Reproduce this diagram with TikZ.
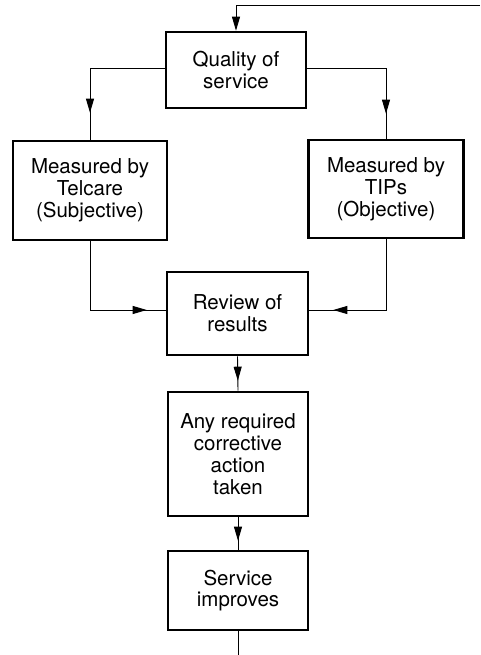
\documentclass[tikz,border=0pt]{standalone}
\usepackage{fontspec}
\setmainfont{TeX Gyre Heros}
\usetikzlibrary{arrows.meta,decorations.markings}
\tikzset{
  box/.style={draw, line width=2.6pt, align=center, inner sep=0pt,
    font=\fontsize{20.5}{21.8}\selectfont},
  conn/.style={line width=0.9pt},
  tip/.style={-{Triangle[length=14pt,width=8pt]}},
  marrow/.style={postaction={decorate}, decoration={markings,
    mark=at position #1 with {\arrow{Triangle[length=14pt,width=8pt]}}}},
}
\begin{document}
\begin{tikzpicture}[x=1pt,y=-1pt]
\useasboundingbox (0,0) rectangle (480,655);
\node[box, minimum width=140pt, minimum height=76pt] (Q) at (236,70) {Quality of\\service};
\node[box, minimum width=154pt, minimum height=99pt] (L) at (90,190.5) {Measured by\\Telcare\\(Subjective)};
\node[box, minimum width=155pt, minimum height=98pt] (R) at (386,189) {Measured by\\TIPs\\(Objective)};
\node[box, minimum width=141pt, minimum height=83pt] (V) at (237.5,313.5) {Review of\\results};
\node[box, minimum width=140pt, minimum height=124pt] (A) at (238,454) {Any required\\corrective\\action\\taken};
\node[box, minimum width=140pt, minimum height=79pt] (S) at (238,590.5) {Service\\improves};
\coordinate (topright) at (480,5);
\coordinate (bottom) at (238,655);
\draw[conn, tip] (topright) -| (Q.north);
\draw[conn, marrow=-27pt] ([yshift=2pt]Q.west) -| (L.north);
\draw[conn, marrow=-25pt] ([yshift=2pt]Q.east) -| (R.north);
\draw[conn, marrow=-19pt] (L.south) |- ([yshift=3.5pt]V.west);
\draw[conn, marrow=-24pt] (R.south) |- ([yshift=3.5pt]V.east);
\draw[conn, marrow=-10pt] (V.south) -- (A.north);
\draw[conn, marrow=-9pt] (A.south) -- (S.north);
\draw[conn] (S.south) -- (bottom);
\end{tikzpicture}
\end{document}
